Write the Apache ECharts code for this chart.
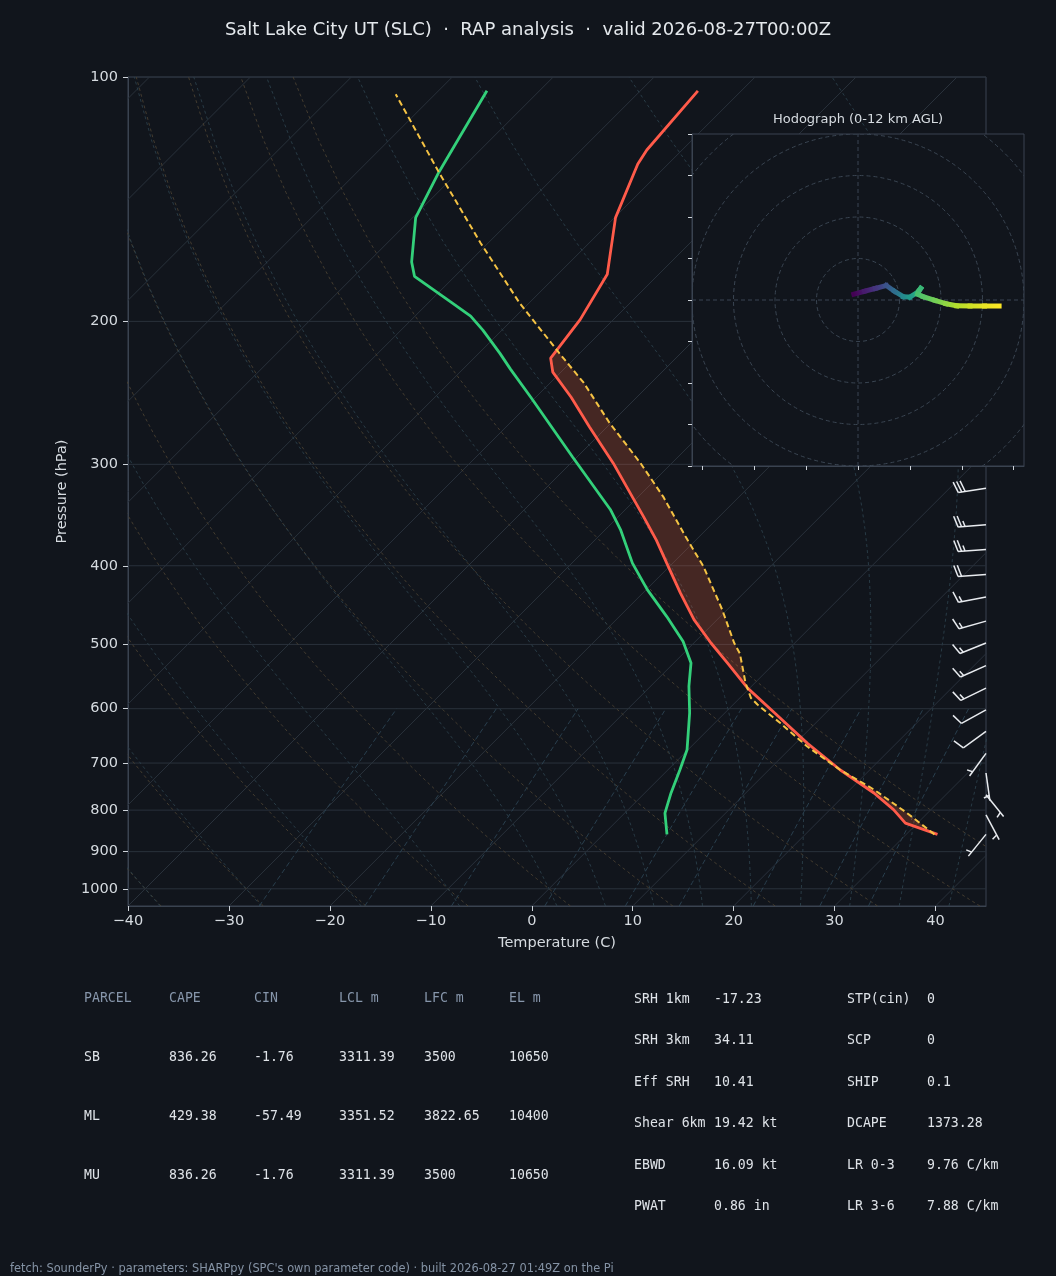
<!DOCTYPE html>
<html>
<head>
<meta charset="utf-8">
<script src="https://cdn.jsdelivr.net/npm/echarts@6/dist/echarts.min.js"></script>
<style>
html, body { margin: 0; padding: 0; background: #11151c; }
#main { width: 1056px; height: 1276px; }
</style>
</head>
<body>
<div id="main"></div>
<script>
// sounding: pressure (hPa) and temperature (C), surface first
var tempP = [857, 830, 799, 762, 714, 662, 607, 566, 527, 498, 466, 432, 397, 372, 348, 299, 270, 248, 231, 222, 199, 175, 149, 128, 123, 104];
var tempC = [33.1, 28.8, 26.3, 22.7, 17.1, 11.2, 4.9, -0.2, -4.7, -8.3, -12.3, -16.3, -20.6, -23.9, -27.5, -35.8, -41.7, -46.5, -50.8, -52.4, -53.3, -55.1, -59.9, -63.0, -63.5, -64.3];

var dewP = [857, 807, 762, 714, 674, 607, 563, 527, 496, 462, 428, 397, 361, 341, 294, 248, 229, 219, 205, 197, 189, 176, 169, 149, 131, 104];
var dewC = [6.3, 4.0, 2.6, 1.2, -0.1, -3.5, -6.2, -8.3, -11.2, -15.3, -19.9, -24.0, -28.5, -31.5, -40.4, -50.5, -55.3, -57.9, -61.9, -64.5, -68.0, -74.0, -75.7, -79.7, -81.9, -85.2];

// surface-based parcel
var parcelP = [857, 807, 755, 714, 668, 625, 593, 582, 558, 513, 498, 453, 401, 368, 329, 299, 267, 238, 219, 190, 160, 131, 105];
var parcelC = [32.8, 28.0, 22.4, 17.1, 11.5, 6.5, 2.4, 1.1, -0.9, -4.4, -6.0, -10.5, -16.6, -21.4, -27.5, -33.1, -40.1, -46.7, -52.0, -60.9, -70.8, -81.9, -93.9];

// wind barbs on the right edge
var barbP = [321, 356, 382, 410, 437, 468, 498, 531, 566, 602, 640, 681, 720, 766, 811, 857];
var barbSpd = [30, 25, 25, 20, 15, 15, 15, 15, 15, 10, 10, 5, 5, 5, 5, 5];
var barbDir = [261, 265, 266, 266, 259, 254, 248, 246, 244, 241, 234, 216, 172, 141, 152, 219];

// hodograph (kt) coloured by height (km AGL)
var hodoH = [0, 0.9, 1.8, 3.0, 4.2, 5.6, 6.4, 7.4, 8.0, 8.3, 8.5, 8.8, 9.4, 10.0, 10.6, 11.1, 11.6, 12.0];
var hodoU = [-1.0, 1.6, 4.2, 6.8, 8.8, 10.9, 12.5, 14.3, 15.1, 14.6, 14.4, 15.7, 18.5, 21.2, 23.8, 27.0, 30.5, 34.0];
var hodoV = [1.4, 2.1, 2.8, 3.5, 2.1, 0.8, 0.7, 1.8, 2.8, 2.0, 1.4, 0.8, -0.1, -0.9, -1.4, -1.45, -1.45, -1.45];
var hodoRings = [10, 20, 30, 40, 50];

// axis ticks
var pTicks = [100, 200, 300, 400, 500, 600, 700, 800, 900, 1000];
var tTicks = [-40, -30, -20, -10, 0, 10, 20, 30, 40];
var hodoXTicks = [-37.5, -25, -12.5, 0, 12.5, 25, 37.5];
var hodoYTicks = [-40, -30, -20, -10, 0, 10, 20, 30, 40];

// background reference lines
var isotherms = [-120, -110, -100, -90, -80, -70, -60, -50, -40, -30, -20, -10, 0, 10, 20, 30, 40];
var dryT0 = [-40, -30, -20, -10, 0, 10, 20, 30, 40, 50];
var moistT0 = [-40, -30, -20, -10, 0, 5, 10, 15, 20, 25, 30, 35, 40, 45];
var mixRatios = [0.0004, 0.001, 0.002, 0.004, 0.007, 0.01, 0.016, 0.024, 0.032];

// parameter table
var tableHead = ['PARCEL', 'CAPE', 'CIN', 'LCL m', 'LFC m', 'EL m'];
var parcelNames = ['SB', 'ML', 'MU'];
var capeVals = [836.26, 429.38, 836.26];
var cinVals = [-1.76, -57.49, -1.76];
var lclVals = [3311.39, 3351.52, 3311.39];
var lfcVals = [3500, 3822.65, 3500];
var elVals = [10650, 10400, 10650];
var idxNames1 = ['SRH 1km', 'SRH 3km', 'Eff SRH', 'Shear 6km', 'EBWD', 'PWAT'];
var idxVals1 = ['-17.23', '34.11', '10.41', '19.42 kt', '16.09 kt', '0.86 in'];
var idxNames2 = ['STP(cin)', 'SCP', 'SHIP', 'DCAPE', 'LR 0-3', 'LR 3-6'];
var idxVals2 = ['0', '0', '0.1', '1373.28', '9.76 C/km', '7.88 C/km'];

var BG = '#11151c', AXC = '#3a4350', TICK = '#cfd4da', TXT = '#d6dbe0';
var P_TOP = 100, P_BOT = 1050, X_MIN = -40, X_MAX = 45;
var G = {left: 128, top: 77, width: 858, height: 829};
// 45 degree isotherms
var SKEW = (G.height / Math.log10(P_BOT / P_TOP)) / (G.width / (X_MAX - X_MIN));
function skewX(t, p) { return t + SKEW * Math.log10(P_BOT / p); }
function prof(P, T) { return P.map(function (p, i) { return [skewX(T[i], p), p]; }); }

// moist adiabat
function satMix(p, tk) { var es = 6.112 * Math.exp(17.67 * (tk - 273.15) / (tk - 29.65)); return 0.62196 * es / (p - es); }
function dTdp(p, tk) {
    var rs = satMix(p, tk);
    return (287.04749 * tk + 2.50084e6 * rs) / (1004.6662 + 2.50084e6 * 2.50084e6 * rs * 0.62196 / (287.04749 * tk * tk)) / p;
}
function rk4(p0, t, p1, n) {
    var h = (p1 - p0) / n, p = p0;
    for (var i = 0; i < n; i++) {
        var k1 = dTdp(p, t), k2 = dTdp(p + h / 2, t + h * k1 / 2), k3 = dTdp(p + h / 2, t + h * k2 / 2), k4 = dTdp(p + h, t + h * k3);
        t += h * (k1 + 2 * k2 + 2 * k3 + k4) / 6; p += h;
    }
    return t;
}
function moistLine(t0) {
    var tk = t0 + 273.15, out = [[skewX(rk4(1000, tk, 1050, 10) - 273.15, 1050), 1050], [skewX(t0, 1000), 1000]];
    var p = 1000, t = tk;
    for (var pp = 980; pp >= 100; pp -= 20) { t = rk4(p, t, pp, 4); p = pp; out.push([skewX(t - 273.15, pp), pp]); }
    return out;
}
function dryLine(t0) {
    var out = [];
    for (var i = 0; i <= 49; i++) {
        var p = P_BOT - (P_BOT - P_TOP) * i / 49;
        out.push([skewX((t0 + 273.15) * Math.pow(p / 1000, 0.2857) - 273.15, p), p]);
    }
    return out;
}
function mixLine(w) {
    var out = [];
    for (var i = 0; i <= 20; i++) {
        var p = P_BOT - (P_BOT - 600) * i / 20;
        var e = p * w / (0.62196 + w), l = Math.log(e / 6.112);
        out.push([skewX(243.5 * l / (17.67 - l), p), p]);
    }
    return out;
}

// positive area between parcel and environment
function interpP(P, T, p) {
    for (var i = 0; i < P.length - 1; i++) {
        if (p <= P[i] && p >= P[i + 1]) {
            var f = Math.log(P[i] / p) / Math.log(P[i] / P[i + 1]);
            return T[i] + f * (T[i + 1] - T[i]);
        }
    }
    return NaN;
}
var capePolys = [];
(function () {
    var run = null;
    for (var p = parcelP[0]; p >= parcelP[parcelP.length - 1]; p -= 0.5) {
        var tp = interpP(parcelP, parcelC, p), te = interpP(tempP, tempC, p);
        if (tp > te) {
            if (!run) run = {a: [], b: []};
            run.a.push([skewX(tp, p), p]); run.b.push([skewX(te, p), p]);
        } else if (run) {
            if (run.a.length > 2) capePolys.push(run.a.concat(run.b.reverse()));
            run = null;
        }
    }
    if (run && run.a.length > 2) capePolys.push(run.a.concat(run.b.reverse()));
}());

var VIRIDIS = ['#440154', '#482475', '#414487', '#355f8d', '#2a788e', '#21918c', '#22a884', '#44bf70', '#7ad151', '#bddf26', '#fde725'];
function viridis(f) {
    f = Math.max(0, Math.min(1, f));
    var x = f * 10, i = Math.min(9, Math.floor(x)), r = x - i;
    var a = VIRIDIS[i], b = VIRIDIS[i + 1], c = [];
    for (var k = 0; k < 3; k++) {
        var ca = parseInt(a.substr(1 + 2 * k, 2), 16), cb = parseInt(b.substr(1 + 2 * k, 2), 16);
        c.push(Math.round(ca + (cb - ca) * r));
    }
    return 'rgb(' + c.join(',') + ')';
}

var series = [];
function bg(points, color, dash, width) {
    series.push({type: 'line', xAxisIndex: 0, yAxisIndex: 0, data: points, symbol: 'none', silent: true, z: 1,
        clip: true, lineStyle: {color: color, width: width || 0.9, type: dash}});
}
pTicks.forEach(function (p) { bg([[X_MIN, p], [X_MAX, p]], '#29313b', 'solid', 1); });
isotherms.forEach(function (t) { bg([[skewX(t, P_BOT), P_BOT], [skewX(t, P_TOP), P_TOP]], '#29313b', 'solid', 1); });
dryT0.forEach(function (t) { bg(dryLine(t), '#4a4132', [3, 3]); });
moistT0.forEach(function (t) { bg(moistLine(t), '#2b3f4b', [3, 3]); });
mixRatios.forEach(function (w) { bg(mixLine(w), '#2c4453', [5, 3]); });

series.push({
    type: 'custom', xAxisIndex: 0, yAxisIndex: 0, z: 3, silent: true,
    data: capePolys.map(function (q, i) { return [0, 500, i]; }),
    encode: {x: 0, y: 1},
    renderItem: function (params, api) {
        var poly = capePolys[api.value(2)];
        return {type: 'polygon', shape: {points: poly.map(function (q) { return api.coord(q); })},
            style: {fill: 'rgba(255,105,65,0.22)'}};
    }
});

series.push({type: 'line', xAxisIndex: 0, yAxisIndex: 0, data: prof(tempP, tempC), symbol: 'none', z: 5,
    lineStyle: {color: '#ff5b4a', width: 2.8}});
series.push({type: 'line', xAxisIndex: 0, yAxisIndex: 0, data: prof(dewP, dewC), symbol: 'none', z: 5,
    lineStyle: {color: '#33d07a', width: 2.8}});
series.push({type: 'line', xAxisIndex: 0, yAxisIndex: 0, data: prof(parcelP, parcelC), symbol: 'none', z: 6,
    lineStyle: {color: '#f5c344', width: 2, type: [6, 3.5]}});

// wind barbs
series.push({
    type: 'custom', xAxisIndex: 0, yAxisIndex: 0, z: 4, silent: true,
    data: barbP.map(function (p, i) { return [X_MAX, p, barbSpd[i], barbDir[i]]; }),
    encode: {x: 0, y: 1},
    renderItem: function (params, api) {
        var base = api.coord([api.value(0), api.value(1)]);
        var spd = api.value(2), d = api.value(3) * Math.PI / 180;
        var L = 28, sx = Math.sin(d), sy = -Math.cos(d), nx = -sy, ny = sx;
        var sp = 0.125 * L, H = 0.4 * L, W = 0.25 * L;
        var st = {stroke: '#e8ebef', lineWidth: 1.5};
        var kids = [{type: 'line', shape: {x1: base[0], y1: base[1], x2: base[0] + sx * L, y2: base[1] + sy * L}, style: st}];
        var r = Math.round(spd / 5) * 5, full = Math.floor(r / 10), half = r % 10 >= 5, off = L;
        for (var i = 0; i < full; i++) {
            var bx = base[0] + sx * off, by = base[1] + sy * off;
            kids.push({type: 'line', shape: {x1: bx, y1: by, x2: bx + nx * H + sx * W / 2, y2: by + ny * H + sy * W / 2}, style: st});
            off -= sp;
        }
        if (half) {
            if (off === L) off -= 1.5 * sp;
            var hx = base[0] + sx * off, hy = base[1] + sy * off;
            kids.push({type: 'line', shape: {x1: hx, y1: hy, x2: hx + nx * H / 2 + sx * W / 4, y2: hy + ny * H / 2 + sy * W / 4}, style: st});
        }
        return {type: 'group', children: kids};
    }
});

// hodograph rings and crosshair
series.push({
    type: 'custom', xAxisIndex: 1, yAxisIndex: 2, z: 12, silent: true, clip: true,
    data: hodoRings.map(function (r) { return [r, 0]; }),
    encode: {x: 0, y: 1},
    renderItem: function (params, api) {
        var c = api.coord([0, 0]), e = api.coord([api.value(0), 0]);
        return {type: 'circle', shape: {cx: c[0], cy: c[1], r: e[0] - c[0]},
            style: {fill: 'none', stroke: '#3a4552', lineWidth: 1, lineDash: [4, 3]}};
    }
});
series.push({
    type: 'custom', xAxisIndex: 1, yAxisIndex: 2, z: 12, silent: true, clip: true,
    data: [[0, 0]],
    encode: {x: 0, y: 1},
    renderItem: function (params, api) {
        var a = api.coord([-40, 0]), b = api.coord([40, 0]), c = api.coord([0, -40]), d = api.coord([0, 40]);
        var st = {stroke: '#3a4552', lineWidth: 1, lineDash: [4, 3]};
        return {type: 'group', children: [
            {type: 'line', shape: {x1: a[0], y1: a[1], x2: b[0], y2: b[1]}, style: st},
            {type: 'line', shape: {x1: c[0], y1: c[1], x2: d[0], y2: d[1]}, style: st}
        ]};
    }
});
// hodograph trace
var hodoSegs = [];
for (var i = 0; i < hodoU.length - 1; i++) {
    hodoSegs.push([hodoU[i], hodoV[i], hodoU[i + 1], hodoV[i + 1], hodoH[i], hodoH[i + 1]]);
}
series.push({
    type: 'custom', xAxisIndex: 1, yAxisIndex: 2, z: 13, silent: true,
    data: hodoSegs,
    encode: {x: [0, 2], y: [1, 3]},
    renderItem: function (params, api) {
        var a = api.coord([api.value(0), api.value(1)]), b = api.coord([api.value(2), api.value(3)]);
        var grad = new echarts.graphic.LinearGradient(a[0], a[1], b[0], b[1], [
            {offset: 0, color: viridis(api.value(4) / 12)}, {offset: 1, color: viridis(api.value(5) / 12)}], true);
        return {type: 'line', shape: {x1: a[0], y1: a[1], x2: b[0], y2: b[1]},
            style: {stroke: grad, lineWidth: 5, lineCap: 'square'}};
    }
});

function minus(v) { return v < 0 ? '\u2212' + Math.abs(v) : String(v); }

var texts = [];
function txt(x, y, s, color, font, align) {
    texts.push({type: 'text', x: x, y: y, z: 30, silent: true,
        style: {text: s, fill: color, font: font, align: align || 'left', verticalAlign: 'middle'}});
}
var MONO = '13.2px "DejaVu Sans Mono"';
var colX = [84, 169, 254, 339, 424, 509];
tableHead.forEach(function (h, i) { txt(colX[i], 999, h, '#8796ab', MONO); });
parcelNames.forEach(function (n, r) {
    var y = 1058 + r * 59;
    var row = [n, capeVals[r], cinVals[r], lclVals[r], lfcVals[r], elVals[r]];
    row.forEach(function (v, i) { txt(colX[i], y, String(v), '#dfe3e8', MONO); });
});
var rowY = [999.5, 1041, 1082.5, 1124, 1165.5, 1207];
idxNames1.forEach(function (n, i) {
    txt(634, rowY[i], n, '#dfe3e8', MONO); txt(714, rowY[i], idxVals1[i], '#dfe3e8', MONO);
    txt(847, rowY[i], idxNames2[i], '#dfe3e8', MONO); txt(927, rowY[i], idxVals2[i], '#dfe3e8', MONO);
});
txt(858, 120, 'Hodograph (0-12 km AGL)', '#d6dbe0', '13px "DejaVu Sans"', 'center');
txt(10, 1269, 'fetch: SounderPy \u00b7 parameters: SHARPpy (SPC\'s own parameter code) \u00b7 built 2026-08-27 01:49Z on the Pi', '#8593a5', '11.4px "DejaVu Sans"');

var myChart = echarts.init(document.getElementById('main'));
var option = {
    backgroundColor: BG,
    animation: false,
    textStyle: {fontFamily: 'DejaVu Sans'},
    title: {
        text: 'Salt Lake City UT (SLC)  \u00b7  RAP analysis  \u00b7  valid 2026-08-27T00:00Z',
        left: 'center', top: 16,
        textStyle: {color: '#e4e8ec', fontSize: 18, fontWeight: 'normal', fontFamily: 'DejaVu Sans'}
    },
    grid: [
        {left: G.left, top: G.top, width: G.width, height: G.height, show: true, borderColor: AXC, borderWidth: 1,
            backgroundColor: 'transparent', containLabel: false, outerBoundsMode: 'none'},
        {left: 692, top: 134, width: 332, height: 332, show: true, borderColor: AXC, borderWidth: 1,
            backgroundColor: BG, containLabel: false, outerBoundsMode: 'none', z: 10}
    ],
    xAxis: [
        {gridIndex: 0, type: 'value', min: X_MIN, max: X_MAX,
            name: 'Temperature (C)', nameLocation: 'middle', nameGap: 30,
            nameTextStyle: {color: TXT, fontSize: 14.5},
            axisLine: {show: true, onZero: false, lineStyle: {color: AXC}},
            axisTick: {show: true, length: 5, lineStyle: {color: TICK}, customValues: tTicks},
            axisLabel: {color: TXT, fontSize: 14.5, margin: 8, customValues: tTicks, formatter: minus},
            splitLine: {show: false}},
        {gridIndex: 1, type: 'value', min: -40, max: 40, z: 11,
            axisLine: {show: true, onZero: false, lineStyle: {color: AXC}},
            axisTick: {show: true, length: 4, lineStyle: {color: TICK}, customValues: hodoXTicks},
            axisLabel: {show: false}, splitLine: {show: false}}
    ],
    yAxis: [
        {gridIndex: 0, type: 'log', logBase: 10, min: P_TOP, max: P_BOT, inverse: true, show: false, position: 'right'},
        {gridIndex: 0, type: 'value', min: 2, max: Math.log10(P_BOT), inverse: true, position: 'left',
            name: 'Pressure (hPa)', nameLocation: 'middle', nameGap: 58,
            nameTextStyle: {color: TXT, fontSize: 14.5},
            axisLine: {show: true, onZero: false, lineStyle: {color: AXC}},
            axisTick: {show: true, length: 5, lineStyle: {color: TICK}, customValues: pTicks.map(Math.log10)},
            axisLabel: {color: TXT, fontSize: 14.5, margin: 10, customValues: pTicks.map(Math.log10),
                formatter: function (v) { return String(Math.round(Math.pow(10, v))); }},
            splitLine: {show: false}},
        {gridIndex: 1, type: 'value', min: -40, max: 40, z: 11,
            axisLine: {show: true, onZero: false, lineStyle: {color: AXC}},
            axisTick: {show: true, length: 4, lineStyle: {color: TICK}, customValues: hodoYTicks},
            axisLabel: {show: false}, splitLine: {show: false}}
    ],
    series: series,
    graphic: {elements: texts}
};
myChart.setOption(option);
</script>
</body>
</html>
